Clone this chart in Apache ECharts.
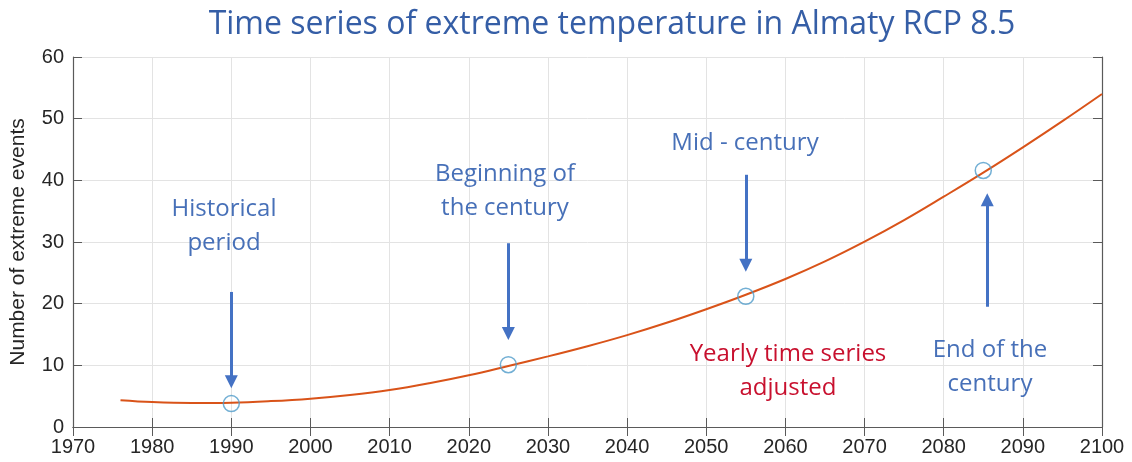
<!DOCTYPE html>
<html>
<head>
<meta charset="utf-8">
<title>Time series of extreme temperature in Almaty RCP 8.5</title>
<script src="https://cdn.jsdelivr.net/npm/echarts@6/dist/echarts.min.js"></script>
<style>
  html, body { margin: 0; padding: 0; background: #fff; }
  #main { width: 1132px; height: 462px; }
</style>
</head>
<body>
<div id="main"></div>
<script>
// 年份 / 极端事件数（曲线读数）
const years = [1976, 1980, 1985, 1990, 1995, 2000, 2005, 2010, 2015, 2020, 2025, 2030, 2035,
  2040, 2045, 2050, 2055, 2060, 2065, 2070, 2075, 2080, 2085, 2090, 2095, 2100]
const events = [4.35, 4.05, 3.9, 3.95, 4.2, 4.6, 5.2, 6.0, 7.1, 8.4, 9.9, 11.45, 13.1,
  14.9, 16.9, 19.1, 21.45, 24.0, 26.85, 30.05, 33.55, 37.35, 41.25, 45.35, 49.6, 54.0]
// 圆圈标记
const markYears = [1990, 2025, 2055, 2085]
const markValues = [3.8, 10.1, 21.2, 41.6]
// 箭头 [年份, 起点, 终点]
const arrows = [
  [1990, 21.9, 7.35],
  [2025, 29.8, 15.15],
  [2055, 40.9, 26.25],
  [2085.5, 19.5, 36.85]
]
const xTicks = { min: 1970, max: 2100, interval: 10 }
const yTicks = { min: 0, max: 60, interval: 10 }

const chart = echarts.init(document.getElementById('main'))

const axisColor = '#5a5a5a'
const gridColor = '#e3e3e3'
const tickFont = { color: '#262626', fontSize: 20, fontFamily: 'Liberation Sans' }

const blue = '#4770b8'
const annFont = 'Open Sans'

function annText (text, x, y, color) {
  return {
    type: 'text',
    x: x,
    y: y,
    z: 100,
    style: {
      text: text,
      fill: color || blue,
      font: '24px "' + annFont + '"',
      lineHeight: 34,
      align: 'center',
      verticalAlign: 'middle'
    },
    silent: true
  }
}

const option = {
  animation: false,
  backgroundColor: '#fff',
  title: {
    text: 'Time series of extreme temperature in Almaty RCP 8.5',
    left: 607,
    top: 4,
    textAlign: 'center',
    textStyle: {
      color: '#355ea6',
      fontSize: 32,
      fontWeight: 'normal',
      fontFamily: annFont
    }
  },
  grid: {
    left: 71,
    right: 30,
    top: 57,
    bottom: 35
  },
  xAxis: [
    {
      type: 'value',
      min: xTicks.min,
      max: xTicks.max,
      interval: xTicks.interval,
      position: 'bottom',
      axisLine: { lineStyle: { color: axisColor, width: 1.2 } },
      axisTick: { inside: true, length: 9, lineStyle: { color: axisColor } },
      axisLabel: Object.assign({ margin: 10, formatter: v => String(v) }, tickFont),
      splitLine: { show: true, lineStyle: { color: gridColor } }
    },
    {
      type: 'value',
      min: xTicks.min,
      max: xTicks.max,
      interval: xTicks.interval,
      position: 'top',
      axisLine: { show: true, lineStyle: { color: axisColor, width: 1.2 } },
      axisTick: { show: true, inside: true, length: 9, lineStyle: { color: axisColor } },
      axisLabel: { show: false },
      splitLine: { show: false }
    }
  ],
  yAxis: [
    {
      type: 'value',
      min: yTicks.min,
      max: yTicks.max,
      interval: yTicks.interval,
      position: 'left',
      name: 'Number of extreme events',
      nameLocation: 'middle',
      nameGap: 44,
      nameTextStyle: { color: '#262626', fontSize: 21, fontFamily: 'Liberation Sans' },
      axisLine: { show: true, lineStyle: { color: axisColor, width: 1.2 } },
      axisTick: { show: true, inside: true, length: 9, lineStyle: { color: axisColor } },
      axisLabel: Object.assign({ margin: 9 }, tickFont),
      splitLine: { show: true, lineStyle: { color: gridColor } }
    },
    {
      type: 'value',
      min: yTicks.min,
      max: yTicks.max,
      interval: yTicks.interval,
      position: 'right',
      axisLine: { show: true, lineStyle: { color: axisColor, width: 1.2 } },
      axisTick: { show: true, inside: true, length: 9, lineStyle: { color: axisColor } },
      axisLabel: { show: false },
      splitLine: { show: false }
    }
  ],
  series: [
    {
      name: 'Yearly time series adjusted',
      type: 'line',
      smooth: 0.4,
      symbol: 'none',
      data: years.map((y, i) => [y, events[i]]),
      lineStyle: { color: '#d95319', width: 2 },
      markLine: {
        silent: true,
        symbol: ['none', 'triangle'],
        symbolSize: [13, 13],
        label: { show: false },
        lineStyle: { color: '#4472c4', width: 3, type: 'solid' },
        itemStyle: { color: '#4472c4' },
        data: arrows.map(a => [
          { coord: [a[0], a[1]] },
          { coord: [a[0], a[2]] }
        ])
      },
      z: 3
    },
    {
      name: 'periods',
      type: 'scatter',
      symbol: 'circle',
      symbolSize: 16,
      data: markYears.map((y, i) => [y, markValues[i]]),
      itemStyle: {
        color: 'rgba(0,0,0,0)',
        borderColor: '#4f9bc9',
        borderWidth: 1.5
      },
      z: 4
    }
  ],
  graphic: [
    annText('Historical\nperiod', 224, 226),
    annText('Beginning of\nthe century', 505, 191),
    annText('Mid - century', 745, 143),
    annText('End of the\ncentury', 990, 367),
    annText('Yearly time series\nadjusted', 788, 371, '#c8102e')
  ]
}

chart.setOption(option)
</script>
</body>
</html>
